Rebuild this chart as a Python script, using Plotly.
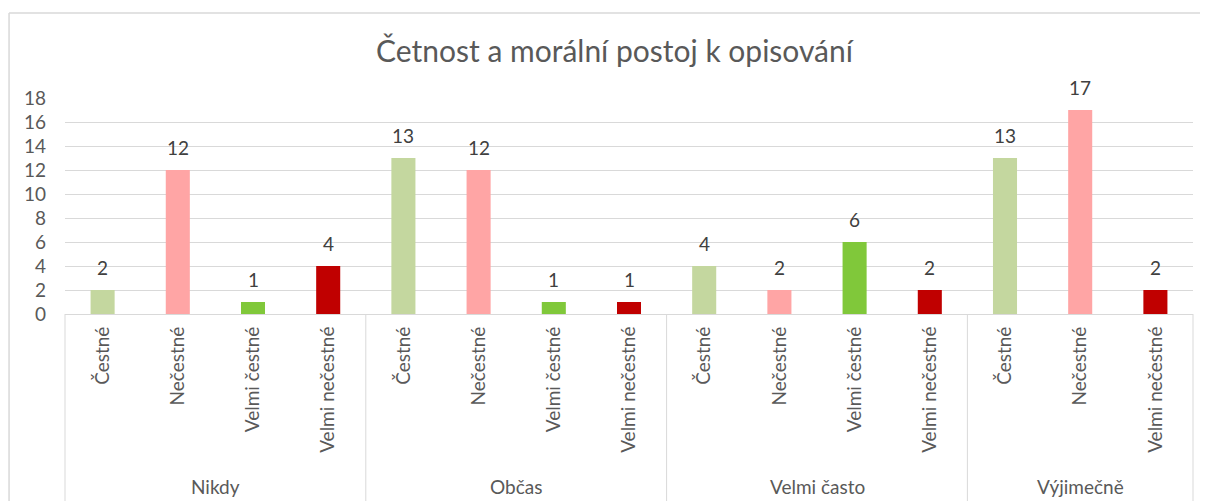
import plotly.graph_objects as go

groups = ["Nikdy", "Občas", "Velmi často", "Výjimečně"]
group_cats = [
    ["Čestné", "Nečestné", "Velmi čestné", "Velmi nečestné"],
    ["Čestné", "Nečestné", "Velmi čestné", "Velmi nečestné"],
    ["Čestné", "Nečestné", "Velmi čestné", "Velmi nečestné"],
    ["Čestné", "Nečestné", "Velmi nečestné"],
]
group_values = [
    [2, 12, 1, 4],
    [13, 12, 1, 1],
    [4, 2, 6, 2],
    [13, 17, 2],
]
color_map = {
    "Čestné": "#C4D79F",
    "Nečestné": "#FFA5A5",
    "Velmi čestné": "#80C83A",
    "Velmi nečestné": "#C00000",
}
title = "Četnost a morální postoj k opisování"
y_ticks = [0, 2, 4, 6, 8, 10, 12, 14, 16, 18]

FONT = "Lato"
TXT = "#595959"
GRID = "#D9D9D9"

cats, vals, cols = [], [], []
for cl, vl in zip(group_cats, group_values):
    for c, v in zip(cl, vl):
        cats.append(c)
        vals.append(v)
        cols.append(color_map[c])
n = len(cats)
xs = list(range(n))

fig = go.Figure(go.Bar(
    x=xs, y=vals, marker=dict(color=cols, line=dict(width=0)),
    width=0.32, hoverinfo="skip",
))

annotations = []
for x, v in zip(xs, vals):
    annotations.append(dict(x=x, y=v, xref="x", yref="y", text=str(v), showarrow=False,
                            yanchor="bottom", yshift=9,
                            font=dict(family=FONT, size=19, color="#404040")))

shapes = []
# outer chart border (top and left edges visible)
shapes.append(dict(type="line", xref="paper", yref="paper", x0=-0.0496, x1=1.05, y0=1.3935, y1=1.3935,
                   line=dict(color=GRID, width=1.5), layer="below"))
shapes.append(dict(type="line", xref="paper", yref="paper", x0=-0.0496, x1=-0.0496, y0=-1.0, y1=1.3935,
                   line=dict(color=GRID, width=1.5), layer="below"))
# category box dividers
cum = 0
bounds = [0]
for cl in group_cats:
    cum += len(cl)
    bounds.append(cum)
for b in bounds:
    shapes.append(dict(type="line", xref="paper", yref="paper", x0=b / n, x1=b / n, y0=0, y1=-0.9,
                       line=dict(color=GRID, width=1)))
start = 0
for g, cl in zip(groups, group_cats):
    center = start + (len(cl) - 1) / 2
    annotations.append(dict(x=center, y=-0.80, xref="x", yref="paper", text=g, showarrow=False,
                            yanchor="middle", font=dict(family=FONT, size=19, color=TXT)))
    start += len(cl)

W, H = 1200, 493
fig.update_layout(
    width=W, height=H,
    margin=dict(l=57, r=15, t=90, b=H - 90 - 216),
    paper_bgcolor="white", plot_bgcolor="white",
    showlegend=False,
    title=dict(text=title, x=0.5054, xref="container", xanchor="center", y=1 - 43 / H,
               yanchor="middle", font=dict(family=FONT, size=30, color=TXT)),
    xaxis=dict(range=[-0.5, n - 0.5], tickmode="array", tickvals=xs, ticktext=cats,
               tickangle=-90, ticks="", showgrid=False, zeroline=False,
               showline=True, linecolor=GRID, linewidth=1,
               tickfont=dict(family=FONT, size=19, color=TXT), ticklabelstandoff=4),
    yaxis=dict(range=[0, 18], tickmode="array", tickvals=y_ticks, showgrid=True,
               gridcolor=GRID, gridwidth=1, zeroline=False, showline=False, ticks="",
               tickfont=dict(family=FONT, size=19, color=TXT), ticklabelstandoff=18),
    annotations=annotations,
    shapes=shapes,
)

fig.write_html("out.html")
